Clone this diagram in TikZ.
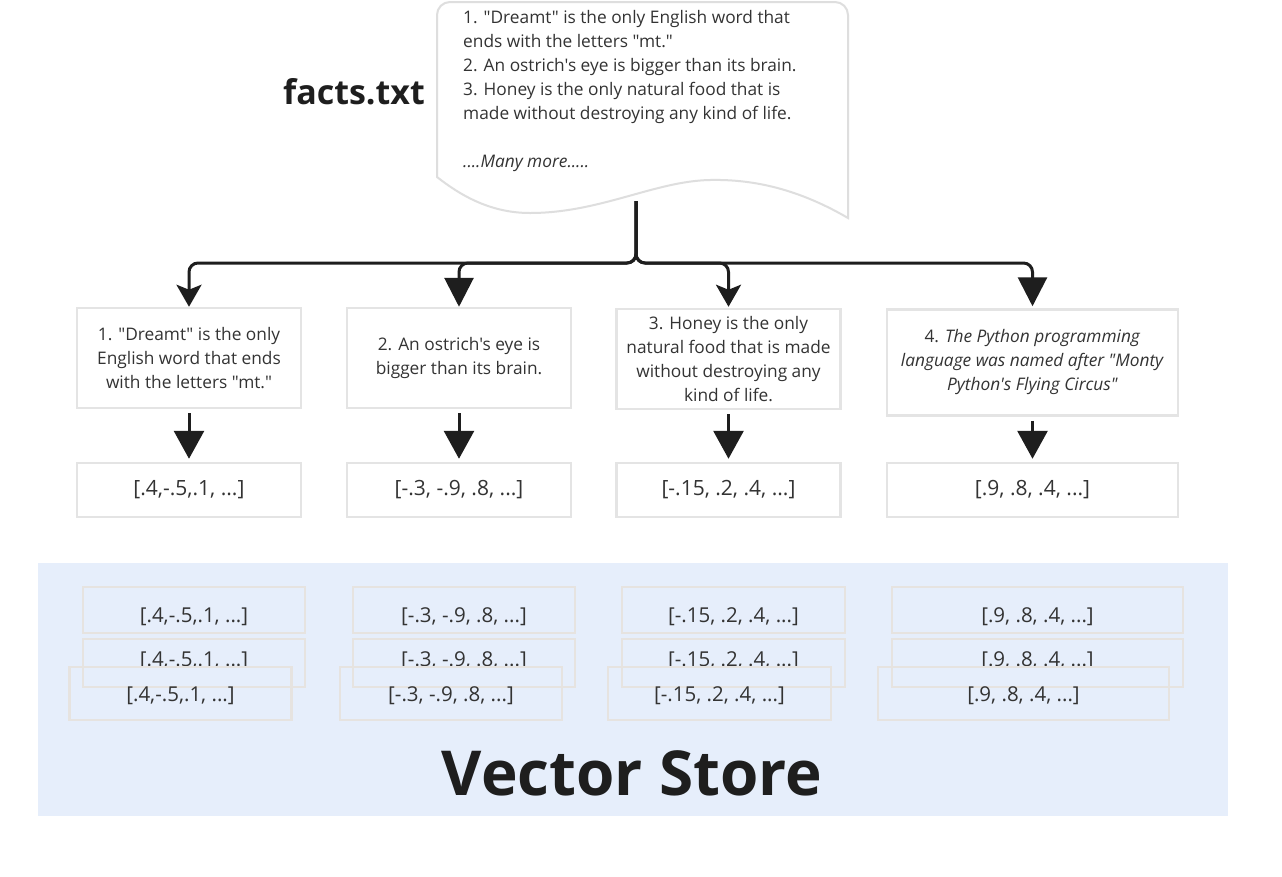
\documentclass[tikz,border=0pt]{standalone}
\usepackage{fontspec}
\setmainfont{Open Sans}[Ligatures=TeXOff]
\usetikzlibrary{arrows.meta}
\definecolor{txt}{HTML}{333333}
\definecolor{ink}{HTML}{1E1E1E}
\definecolor{boxline}{HTML}{E4E4E4}
\definecolor{stackline}{HTML}{E6E3E0}
\definecolor{vsbg}{HTML}{E6EEFB}
\definecolor{docline}{HTML}{DEDEDE}
\begin{document}
\begin{tikzpicture}[x=1pt,y=-1pt,
  card/.style={draw=boxline, line width=2.5pt, fill=white, inner sep=0pt, align=center,
    text=txt, font=\fontsize{17.3}{24}\selectfont, minimum height=100pt, minimum width=224pt},
  vec/.style={draw=boxline, line width=2.5pt, fill=white, inner sep=0pt,
    text=txt, font=\fontsize{21}{24}\selectfont, minimum height=54pt, minimum width=224pt},
  stk/.style={fill=vsbg, inner sep=0pt, minimum width=222pt},
  stktext/.style={text=txt, inner sep=0pt, font=\fontsize{20.5}{24}\selectfont},
  stkline/.style={draw=stackline, line width=2.5pt},
  conn/.style={draw=ink, line width=3pt, rounded corners=9pt},
  tipA/.style={-{Stealth[length=22pt,width=25pt,inset=5pt]}},
  tipB/.style={-{Triangle[length=29pt,width=29pt]}},
  down/.style={draw=ink, line width=3pt, -{Triangle[length=28pt,width=30pt]}, shorten <=4pt, shorten >=3pt}
]
\useasboundingbox (0,0) rectangle (1282,876);
\fill[white] (0,0) rectangle (1282,876);

% document shape
\path[draw=docline, line width=2pt, fill=white]
  (437,177) [rounded corners=13pt] -- (437,2) -- (848,2) [sharp corners] -- (848,218)
  .. controls (800,190) and (755,179) .. (710,180)
  .. controls (655,181) and (600,213) .. (530,213)
  .. controls (490,213) and (460,195) .. (437,177) -- cycle;
\node[anchor=north west, inner sep=0pt, align=left, text=txt, font=\fontsize{17.3}{24}\selectfont]
  (doctext) at (463,10.5) {1. "Dreamt" is the only English word that\\
  ends with the letters "mt."\\
  2. An ostrich's eye is bigger than its brain.\\
  3. Honey is the only natural food that is\\
  made without destroying any kind of life.\\[24pt]
  \textit{....Many more.....}};
\node[anchor=east, inner sep=0pt, text=ink, font=\fontsize{34}{38}\selectfont\bfseries]
  (title) at (425,92) {facts.txt};
\coordinate (docout) at (636,201);

% fact boxes
\node[card] (f1) at (189,358) {1. "Dreamt" is the only\\English word that ends\\with the letters "mt."};
\node[card] (f2) at (459,358) {2. An ostrich's eye is\\bigger than its brain.};
\node[card] (f3) at (728.5,359) {3. Honey is the only\\natural food that is made\\without destroying any\\kind of life.};
\node[card, minimum width=291pt, minimum height=106pt] (f4) at (1032.5,362.5)
  {4. \textit{The Python programming}\\\textit{language was named after "Monty}\\\textit{Python's Flying Circus"}};

% vector boxes
\node[vec] (v1) at (189,490) {[.4,-.5,.1, ...]};
\node[vec] (v2) at (459,490) {[-.3, -.9, .8, ...]};
\node[vec] (v3) at (728.5,490) {[-.15, .2, .4, ...]};
\node[vec, minimum width=291pt] (v4) at (1032.5,490) {[.9, .8, .4, ...]};

% connectors from document
\draw[conn, tipA] (docout) -- (636,263) -| (f1.north);
\draw[conn, tipB] (docout) -- (636,263) -| (f2.north);
\draw[conn, tipA] (docout) -- (636,263) -| ([yshift=1pt]f3.north);
\draw[conn, tipB] (docout) -- (636,263) -| ([yshift=2pt]f4.north);

\draw[down] (f1) -- (v1);
\draw[down] (f2) -- (v2);
\draw[down] (f3) -- (v3);
\draw[down] (f4) -- (v4);

% vector store
\fill[vsbg] (38,563) rectangle (1228,816);
\node[inner sep=0pt, text=ink, font=\fontsize{62}{68}\selectfont\bfseries] (vstitle) at (632,773.5) {Vector Store};

% stacks
\foreach \i/\cx/\bx/\w/\t in {1/194/180.5/222/{[.4,-.5,.1, ...]},
                               2/464/451/222/{[-.3, -.9, .8, ...]},
                               3/733.5/719.5/223/{[-.15, .2, .4, ...]},
                               4/1037.5/1023.5/291/{[.9, .8, .4, ...]}}{
  \node[stk, minimum width=\w pt, minimum height=46pt] (s\i a) at (\cx,610) {};
  \node[stktext] (t\i a) at (\cx,616.5) {\t};
  \node[stk, minimum width=\w pt, minimum height=48pt] (s\i b) at (\cx,663) {};
  \node[stktext] (t\i b) at (\cx,661) {\t};
  \node[stk, minimum width=\w pt, minimum height=53pt] (s\i c) at (\bx,693.5) {};
  \draw[stkline] (s\i a.north west) rectangle (s\i a.south east);
  \draw[stkline] (s\i b.north west) rectangle (s\i b.south east);
  \draw[stkline] (s\i c.north west) rectangle (s\i c.south east);
  \node[stktext] (t\i c) at (\bx,696) {\t};
}
\end{tikzpicture}
\end{document}
